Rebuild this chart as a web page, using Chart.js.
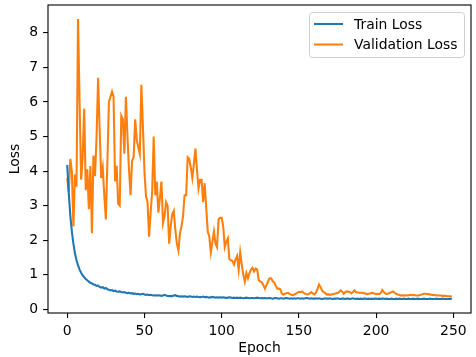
<!DOCTYPE html>
<html>
<head>
<meta charset="utf-8">
<script src="https://cdn.jsdelivr.net/npm/chart.js@4.4.1/dist/chart.umd.min.js"></script>
<style>
  html, body { margin: 0; padding: 0; background: #fff; }
  #chart { display: block; }
</style>
</head>
<body>
<canvas id="chart" width="476" height="357"></canvas>
<script>
// loss values per epoch
const trainLoss = [
  4.18, 3.35, 2.72, 2.25, 1.9, 1.62, 1.42, 1.27, 1.15, 1.06,
  0.98, 0.93, 0.88, 0.84, 0.8, 0.77, 0.75, 0.72, 0.71, 0.68,
  0.69, 0.65, 0.63, 0.64, 0.6, 0.62, 0.58, 0.57, 0.55, 0.56,
  0.53, 0.54, 0.52, 0.51, 0.52, 0.5, 0.49, 0.5, 0.48, 0.47,
  0.48, 0.46, 0.47, 0.45, 0.46, 0.44, 0.45, 0.43, 0.44, 0.45,
  0.43, 0.42, 0.43, 0.41, 0.42, 0.41, 0.4, 0.41, 0.4, 0.41,
  0.4, 0.39, 0.4, 0.42, 0.4, 0.39, 0.38, 0.39, 0.38, 0.4,
  0.41, 0.39, 0.38, 0.37, 0.38, 0.37, 0.38, 0.37, 0.36, 0.38,
  0.37, 0.36, 0.37, 0.36, 0.37, 0.36, 0.35, 0.36, 0.37, 0.35,
  0.36, 0.35, 0.34, 0.35, 0.36, 0.35, 0.34, 0.35, 0.34, 0.35,
  0.34, 0.35, 0.34, 0.33, 0.34, 0.35, 0.34, 0.33, 0.34, 0.33,
  0.34, 0.33, 0.34, 0.33, 0.32, 0.33, 0.34, 0.33, 0.32, 0.33,
  0.33, 0.32, 0.33, 0.34, 0.33, 0.32, 0.33, 0.32, 0.33, 0.32,
  0.32, 0.33, 0.32, 0.31, 0.32, 0.33, 0.32, 0.31, 0.32, 0.32,
  0.31, 0.32, 0.33, 0.32, 0.31, 0.32, 0.31, 0.32, 0.31, 0.32,
  0.32, 0.31, 0.32, 0.31, 0.32, 0.33, 0.32, 0.31, 0.32, 0.31,
  0.31, 0.32, 0.31, 0.32, 0.31, 0.3, 0.31, 0.32, 0.31, 0.31,
  0.32, 0.31, 0.3, 0.31, 0.31, 0.32, 0.31, 0.3, 0.31, 0.31,
  0.3, 0.31, 0.31, 0.3, 0.31, 0.32, 0.31, 0.3, 0.31, 0.3,
  0.31, 0.3, 0.31, 0.31, 0.3, 0.31, 0.3, 0.31, 0.3, 0.31,
  0.31, 0.3, 0.31, 0.3, 0.31, 0.31, 0.3, 0.31, 0.3, 0.3,
  0.31, 0.3, 0.3, 0.31, 0.3, 0.31, 0.3, 0.3, 0.31, 0.3,
  0.3, 0.31, 0.3, 0.3, 0.31, 0.3, 0.3, 0.31, 0.3, 0.3,
  0.3, 0.31, 0.3, 0.3, 0.3, 0.31, 0.3, 0.3, 0.3, 0.31,
  0.3, 0.3, 0.3, 0.31, 0.3, 0.3, 0.3, 0.3, 0.31, 0.3
];

const valLoss = [
  3.8, 3.4, 4.35, 4.0, 2.4, 3.9, 3.55, 8.4, 6.0, 3.75,
  4.4, 5.8, 3.45, 4.05, 2.9, 4.15, 2.2, 4.45, 3.85, 5.0,
  6.7, 5.2, 3.8, 4.1, 3.3, 2.6, 4.25, 6.0, 6.15, 6.3,
  6.15, 3.7, 4.15, 3.05, 3.0, 5.6, 5.5, 4.5, 6.15, 5.0,
  4.05, 3.3, 4.3, 4.4, 5.5, 4.9, 4.7, 4.5, 6.5, 5.3,
  4.0, 3.27, 3.1, 2.1, 2.8, 3.4, 5.0, 3.3, 3.7, 2.8,
  3.2, 3.7, 2.5, 2.7, 3.1, 3.0, 1.9, 2.4, 2.75, 2.85,
  2.3, 1.9, 1.7, 2.2, 2.4, 2.7, 3.3, 3.3, 4.4, 4.35,
  4.1, 3.8, 4.2, 4.65, 4.05, 3.5, 3.75, 3.75, 3.1, 3.65,
  2.95, 2.25, 2.1, 1.65, 1.95, 2.25, 1.9, 1.8, 2.6, 2.65,
  2.65, 2.4, 1.8, 1.95, 2.05, 1.45, 1.42, 1.4, 1.3, 1.45,
  1.55, 1.15, 1.65, 1.3, 1.0, 0.8, 1.05, 0.9, 1.05, 1.15,
  1.2, 1.1, 1.18, 1.15, 0.85, 0.8, 0.78, 0.7, 0.6, 0.7,
  0.8, 0.9, 0.9, 0.82, 0.78, 0.68, 0.6, 0.6, 0.58, 0.45,
  0.43, 0.45, 0.47, 0.48, 0.45, 0.42, 0.41, 0.43, 0.45, 0.48,
  0.51, 0.5, 0.52, 0.48, 0.45, 0.44, 0.43, 0.46, 0.5, 0.46,
  0.43, 0.48, 0.58, 0.72, 0.65, 0.55, 0.5, 0.47, 0.43, 0.44,
  0.42, 0.43, 0.44, 0.45, 0.46, 0.47, 0.5, 0.55, 0.52, 0.45,
  0.5, 0.52, 0.51, 0.5, 0.46, 0.5, 0.55, 0.5, 0.49, 0.48,
  0.48, 0.48, 0.47, 0.46, 0.44, 0.45, 0.46, 0.47, 0.47, 0.46,
  0.44, 0.45, 0.44, 0.47, 0.56, 0.5, 0.46, 0.45, 0.46, 0.48,
  0.5, 0.52, 0.48, 0.45, 0.43, 0.42, 0.4, 0.41, 0.4, 0.41,
  0.4, 0.41, 0.42, 0.41, 0.42, 0.41, 0.4, 0.4, 0.41, 0.42,
  0.44, 0.45, 0.45, 0.44, 0.44, 0.43, 0.42, 0.42, 0.41, 0.41,
  0.4, 0.4, 0.4, 0.39, 0.39, 0.39, 0.38, 0.38, 0.38, 0.38
];

const xTicks = [0, 50, 100, 150, 200, 250];
const yTicks = [0, 1, 2, 3, 4, 5, 6, 7, 8];

const BLUE = '#1f77b4';
const ORANGE = '#ff7f0e';
const FONT = { family: 'DejaVu Sans', size: 13.9 };

// epoch index is just the position in the arrays
const toPoints = arr => arr.map((v, i) => ({ x: i, y: v }));

// box around the plot + matplotlib style legend in the upper right
const framePlugin = {
  id: 'frame',
  afterDraw(chart) {
    const { ctx, chartArea: a } = chart;
    ctx.save();
    ctx.strokeStyle = '#000';
    ctx.lineWidth = 1.1;
    ctx.strokeRect(a.left, a.top, a.right - a.left, a.bottom - a.top);

    const bx = 309.5, by = 12.5, bw = 155, bh = 45;
    ctx.beginPath();
    ctx.roundRect(bx, by, bw, bh, 3);
    ctx.fillStyle = 'rgba(255,255,255,0.8)';
    ctx.fill();
    ctx.strokeStyle = '#d0d0d0';
    ctx.lineWidth = 1;
    ctx.stroke();

    ctx.font = FONT.size + 'px "' + FONT.family + '"';
    ctx.textBaseline = 'middle';
    ctx.textAlign = 'left';
    chart.data.datasets.forEach((ds, i) => {
      const y = 24 + i * 20.5;
      ctx.strokeStyle = ds.borderColor;
      ctx.lineWidth = 2.08;
      ctx.beginPath();
      ctx.moveTo(314, y);
      ctx.lineTo(343, y);
      ctx.stroke();
      ctx.fillStyle = '#000';
      ctx.fillText(ds.label, 354, y + 1);
    });
    ctx.restore();
  }
};

new Chart(document.getElementById('chart'), {
  type: 'line',
  data: {
    datasets: [
      { label: 'Train Loss', data: toPoints(trainLoss), borderColor: BLUE, backgroundColor: BLUE },
      { label: 'Validation Loss', data: toPoints(valLoss), borderColor: ORANGE, backgroundColor: ORANGE }
    ]
  },
  options: {
    responsive: false,
    devicePixelRatio: 1,
    animation: false,
    layout: { padding: { top: 5, right: 5, left: 0, bottom: 0 } },
    elements: {
      point: { radius: 0 },
      line: { borderWidth: 2.08, tension: 0 }
    },
    plugins: {
      legend: { display: false },
      tooltip: { enabled: false }
    },
    scales: {
      x: {
        type: 'linear',
        min: -12.45,
        max: 261.45,
        afterBuildTicks: s => { s.ticks = xTicks.map(v => ({ value: v })); },
        afterFit: s => { s.height = 44; s.paddingLeft = 0; s.paddingRight = 0; },
        grid: { drawOnChartArea: false, drawTicks: true, tickLength: 4.9, color: '#000', lineWidth: 1.1 },
        border: { display: false },
        ticks: { color: '#000', font: FONT, padding: 5.5, maxRotation: 0 },
        title: { display: true, text: 'Epoch', color: '#000', font: FONT, padding: { top: 0, bottom: 0.6 } }
      },
      y: {
        type: 'linear',
        min: -0.105,
        max: 8.805,
        afterBuildTicks: s => { s.ticks = yTicks.map(v => ({ value: v })); },
        afterFit: s => { s.width = 48; s.paddingTop = 0; s.paddingBottom = 0; },
        grid: { drawOnChartArea: false, drawTicks: true, tickLength: 4.9, color: '#000', lineWidth: 1.1 },
        border: { display: false },
        ticks: { color: '#000', font: FONT, padding: 4.9 },
        title: { display: true, text: 'Loss', color: '#000', font: FONT, padding: { top: 7, bottom: 0 } }
      }
    }
  },
  plugins: [framePlugin]
});
</script>
</body>
</html>
